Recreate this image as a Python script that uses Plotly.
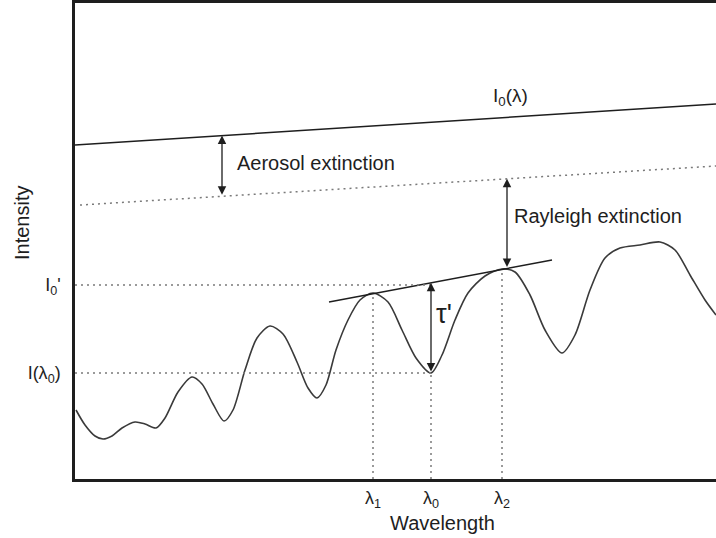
import numpy as np
import plotly.graph_objects as go

# ---- data (arbitrary units) ----
wavelength = [1, 10, 20, 28, 37, 47, 60, 70, 81, 90, 103, 117, 127, 138, 149, 158,
              170, 182, 195, 208, 222, 233, 242, 251, 261, 273, 285, 298, 313, 327,
              341, 356, 367, 380, 393, 410, 427, 440, 455, 470, 487, 500, 515, 530,
              545, 565, 585, 600, 615, 630, 641]
intensity = [69, 54, 43, 40, 43, 51, 57, 55, 51, 61, 87, 102, 95, 75, 58, 69,
             109, 141, 153, 145, 117, 91, 81, 94, 129, 159, 179, 186, 177, 149,
             121, 106, 124, 159, 186, 203, 210, 207, 184, 149, 126, 144, 189, 221,
             231, 234, 237, 229, 204, 179, 164]

I0_x = [0, 641]
I0_y = [334, 375]
aer_x = [5, 641]
aer_y = [274, 313]
tangent_x = [254, 477]
tangent_y = [177, 219]

lam1, lam0, lam2 = 298, 356, 427
I0_prime = 194
I_lam0 = 106
aerosol_arrow_x = 147
rayleigh_arrow_x = 432

x_tick_vals = [lam1, lam0, lam2]
x_tick_text = ["λ<sub>1</sub>", "λ<sub>0</sub>", "λ<sub>2</sub>"]
y_tick_vals = [I_lam0, I0_prime]
y_tick_text = ["I(λ<sub>0</sub>)", "I<sub>0</sub>'"]

FONT = "Liberation Sans, Arial, sans-serif"
DARK = "#1e1e1e"
GRAY = "#7a7a7a"
DOT = "2px,4px"

fig = go.Figure()

# Spectrum curve
fig.add_trace(go.Scatter(x=wavelength, y=intensity, mode="lines",
                         line=dict(color="#3a3a3a", width=1.6, shape="spline", smoothing=0.8),
                         hoverinfo="skip"))
# I0(lambda)
fig.add_trace(go.Scatter(x=I0_x, y=I0_y, mode="lines",
                         line=dict(color=DARK, width=1.5), hoverinfo="skip"))
# after aerosol (dotted)
fig.add_trace(go.Scatter(x=aer_x, y=aer_y, mode="lines",
                         line=dict(color=GRAY, width=1.5, dash=DOT), hoverinfo="skip"))
# tangent
fig.add_trace(go.Scatter(x=tangent_x, y=tangent_y, mode="lines",
                         line=dict(color=DARK, width=1.5), hoverinfo="skip"))
# horizontal guides
for yv in [I0_prime, I_lam0]:
    fig.add_trace(go.Scatter(x=[0, lam0], y=[yv, yv], mode="lines",
                             line=dict(color=GRAY, width=1.5, dash=DOT), hoverinfo="skip"))
# vertical guides
peak_vals = [np.interp(lam1, wavelength, intensity), I_lam0, np.interp(lam2, wavelength, intensity)]
for xv, top in zip([lam1, lam0, lam2], peak_vals):
    fig.add_trace(go.Scatter(x=[xv, xv], y=[0, top], mode="lines",
                             line=dict(color=GRAY, width=1.5, dash=DOT), hoverinfo="skip"))

# arrows
def darrow(x, y0, y1):
    fig.add_annotation(x=x, y=y1, ax=x, ay=y0, xref="x", yref="y", axref="x", ayref="y",
                       showarrow=True, arrowhead=2, startarrowhead=2, arrowside="end+start",
                       arrowsize=1.3, startarrowsize=1.3, arrowwidth=1.3, arrowcolor=DARK,
                       standoff=0, startstandoff=0, text="")

darrow(aerosol_arrow_x, np.interp(aerosol_arrow_x, aer_x, aer_y), np.interp(aerosol_arrow_x, I0_x, I0_y))
darrow(rayleigh_arrow_x, np.interp(rayleigh_arrow_x, tangent_x, tangent_y), np.interp(rayleigh_arrow_x, aer_x, aer_y))
darrow(lam0, I_lam0, np.interp(lam0, tangent_x, tangent_y))

def label(x, y, text, size=20, xanchor="left"):
    fig.add_annotation(x=x, y=y, xref="x", yref="y", text=text, showarrow=False,
                       xanchor=xanchor, yanchor="middle", font=dict(family=FONT, size=size, color=DARK))

label(160, 316, "Aerosol extinction")
label(437, 263, "Rayleigh extinction")
label(435, 382, "I<sub>0</sub>(λ)", size=19, xanchor="center")
label(369, 165, "τ'", size=27, xanchor="center")

# axis titles
fig.add_annotation(x=367, y=0, xref="x", yref="paper", yshift=-44, text="Wavelength",
                   showarrow=False, xanchor="center", yanchor="middle",
                   font=dict(family=FONT, size=20, color=DARK))
fig.add_annotation(x=0, y=256, xref="paper", yref="y", xshift=-53, text="Intensity",
                   textangle=-90, showarrow=False, xanchor="center", yanchor="middle",
                   font=dict(family=FONT, size=20, color=DARK))

fig.update_xaxes(range=[0, 641], showgrid=False, zeroline=False, showline=True, mirror=True,
                 linecolor=DARK, linewidth=2.5, tickvals=x_tick_vals, ticktext=x_tick_text,
                 ticks="outside", ticklen=1, tickcolor="rgba(0,0,0,0)",
                 tickfont=dict(family=FONT, size=18, color=DARK))
fig.update_yaxes(range=[0, 476], showgrid=False, zeroline=False, showline=True, mirror=False,
                 linecolor=DARK, linewidth=2.5, tickvals=y_tick_vals, ticktext=y_tick_text,
                 ticks="outside", ticklen=8, tickcolor="rgba(0,0,0,0)",
                 tickfont=dict(family=FONT, size=18, color=DARK))

fig.update_layout(width=716, height=538, margin=dict(l=75, r=0, t=3, b=59),
                  plot_bgcolor="white", paper_bgcolor="white", showlegend=False)

fig.write_html("out.html")
